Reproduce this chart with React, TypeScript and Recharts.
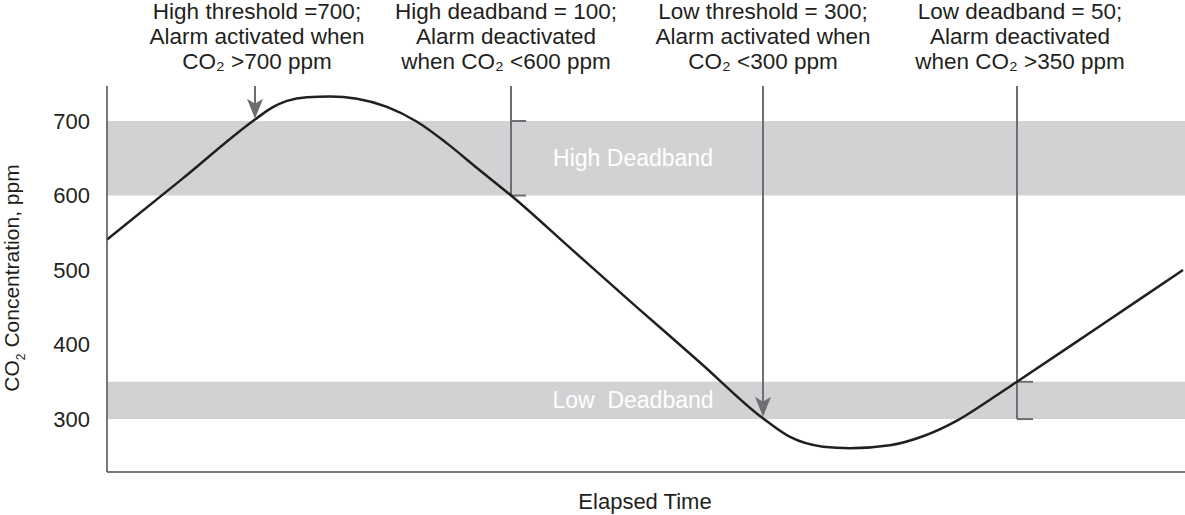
import React from 'react'
import {
  LineChart,
  Line,
  XAxis,
  YAxis,
  ReferenceArea,
  ReferenceLine,
  ReferenceDot,
} from 'recharts'

// elapsed time (arbitrary units) and CO2 reading
const time = [0, 74, 148, 165, 180, 200, 223, 250, 280, 310, 340, 370, 405, 467, 530, 593, 655, 683, 716, 743, 783, 816, 850, 883, 910, 993, 1076]
const co2 = [541, 621, 702, 718, 727, 732, 733, 730, 719, 699, 670, 637, 599, 525, 450, 376, 302, 276, 263, 261, 265, 277, 298, 326, 350, 425, 500]
const yTicks = [300, 400, 500, 600, 700]

const highThreshold = 700
const highDeadband = 600
const lowThreshold = 300
const lowDeadband = 350
const yTop = 747

const notes = [
  { x: 257, lines: ['High threshold =700;', 'Alarm activated when', 'CO₂ >700 ppm'] },
  { x: 506, lines: ['High deadband = 100;', 'Alarm deactivated', 'when CO₂ <600 ppm'] },
  { x: 763, lines: ['Low threshold = 300;', 'Alarm activated when', 'CO₂ <300 ppm'] },
  { x: 1020, lines: ['Low deadband = 50;', 'Alarm deactivated', 'when CO₂ >350 ppm'] },
]

const data = time.map((t, i) => ({ t, co2: co2[i] }))

const INK = '#231f20'
const GREY = '#6d6e71'
const AXIS = '#4d4d4f'
const BAND = '#d1d2d4'
const FONT = '"Liberation Sans", Arial, sans-serif'

const Arrowhead = (props: any) => {
  const { cx, cy } = props
  return (
    <path
      d={`M${cx - 8},${cy - 20} L${cx},${cy} L${cx + 8},${cy - 20} L${cx},${cy - 15} Z`}
      fill={GREY}
    />
  )
}

const bandLabel = (text: string) => (props: any) => {
  const { viewBox } = props
  return (
    <text
      x={633}
      y={viewBox.y + viewBox.height / 2}
      textAnchor="middle"
      dominantBaseline="central"
      fill="#fff"
      fontSize={23}
      fontFamily={FONT}
      style={{ whiteSpace: 'pre' }}
    >
      {text}
    </text>
  )
}

const YTitle = (props: any) => {
  const { viewBox } = props
  const cy = viewBox.y + viewBox.height / 2 - 1
  return (
    <text
      transform={`translate(19, ${cy}) rotate(-90)`}
      textAnchor="middle"
      fill={INK}
      fontSize={21}
      fontFamily={FONT}
    >
      <tspan>CO</tspan>
      <tspan fontSize={12} dy={6}>2</tspan>
      <tspan dy={-6}> Concentration, ppm</tspan>
    </text>
  )
}

const XTitle = () => (
  <text x={645} y={509} textAnchor="middle" fill={INK} fontSize={22} fontFamily={FONT}>
    Elapsed Time
  </text>
)

export default function App() {
  return (
    <div style={{ position: 'absolute', left: 0, top: 0, width: 1185, height: 515, fontFamily: FONT }}>
      <LineChart width={1185} height={515} data={data} margin={{ top: 86, right: 0, bottom: 0, left: 0 }}>
        <XAxis
          dataKey="t"
          type="number"
          domain={[0, 1078]}
          tick={false}
          tickLine={false}
          height={43}
          axisLine={{ stroke: AXIS, strokeWidth: 1.5 }}
          label={<XTitle />}
        />
        <YAxis
          type="number"
          domain={[229, yTop]}
          ticks={yTicks}
          width={107}
          tickLine={false}
          tickMargin={11}
          tick={{ fill: INK, fontSize: 22, fontFamily: FONT }}
          axisLine={{ stroke: AXIS, strokeWidth: 1.5 }}
          label={<YTitle />}
        />
        <ReferenceArea y1={highDeadband} y2={highThreshold} fill={BAND} fillOpacity={1} stroke="none" ifOverflow="visible" label={bandLabel('High Deadband')} />
        <ReferenceArea y1={lowThreshold} y2={lowDeadband} fill={BAND} fillOpacity={1} stroke="none" ifOverflow="visible" label={bandLabel('Low  Deadband')} />

        {/* high threshold arrow */}
        <ReferenceLine segment={[{ x: 148, y: yTop }, { x: 148, y: 715 }]} stroke={GREY} strokeWidth={2} ifOverflow="visible" />
        <ReferenceDot x={148} y={703} ifOverflow="visible" shape={Arrowhead} />

        {/* high deadband bracket */}
        <ReferenceLine segment={[{ x: 404, y: yTop }, { x: 404, y: highDeadband }]} stroke={GREY} strokeWidth={2} ifOverflow="visible" />
        <ReferenceLine segment={[{ x: 404, y: highThreshold }, { x: 419, y: highThreshold }]} stroke={GREY} strokeWidth={2} ifOverflow="visible" />
        <ReferenceLine segment={[{ x: 404, y: highDeadband }, { x: 419, y: highDeadband }]} stroke={GREY} strokeWidth={2} ifOverflow="visible" />

        {/* low threshold arrow */}
        <ReferenceLine segment={[{ x: 656, y: yTop }, { x: 656, y: 315 }]} stroke={GREY} strokeWidth={2} ifOverflow="visible" />
        <ReferenceDot x={656} y={303} ifOverflow="visible" shape={Arrowhead} />

        {/* low deadband bracket */}
        <ReferenceLine segment={[{ x: 910, y: yTop }, { x: 910, y: lowThreshold }]} stroke={GREY} strokeWidth={2} ifOverflow="visible" />
        <ReferenceLine segment={[{ x: 910, y: lowDeadband }, { x: 926, y: lowDeadband }]} stroke={GREY} strokeWidth={2} ifOverflow="visible" />
        <ReferenceLine segment={[{ x: 910, y: lowThreshold }, { x: 926, y: lowThreshold }]} stroke={GREY} strokeWidth={2} ifOverflow="visible" />

        <Line
          type="monotone"
          dataKey="co2"
          stroke={INK}
          strokeWidth={2.5}
          dot={false}
          activeDot={false}
          isAnimationActive={false}
        />
      </LineChart>
      {notes.map((n) => (
        <div
          key={n.x}
          style={{
            position: 'absolute',
            left: n.x - 150,
            top: -1,
            width: 300,
            textAlign: 'center',
            fontSize: 22.5,
            lineHeight: '25px',
            color: INK,
          }}
        >
          {n.lines.map((l) => (
            <div key={l}>{l}</div>
          ))}
        </div>
      ))}
    </div>
  )
}
